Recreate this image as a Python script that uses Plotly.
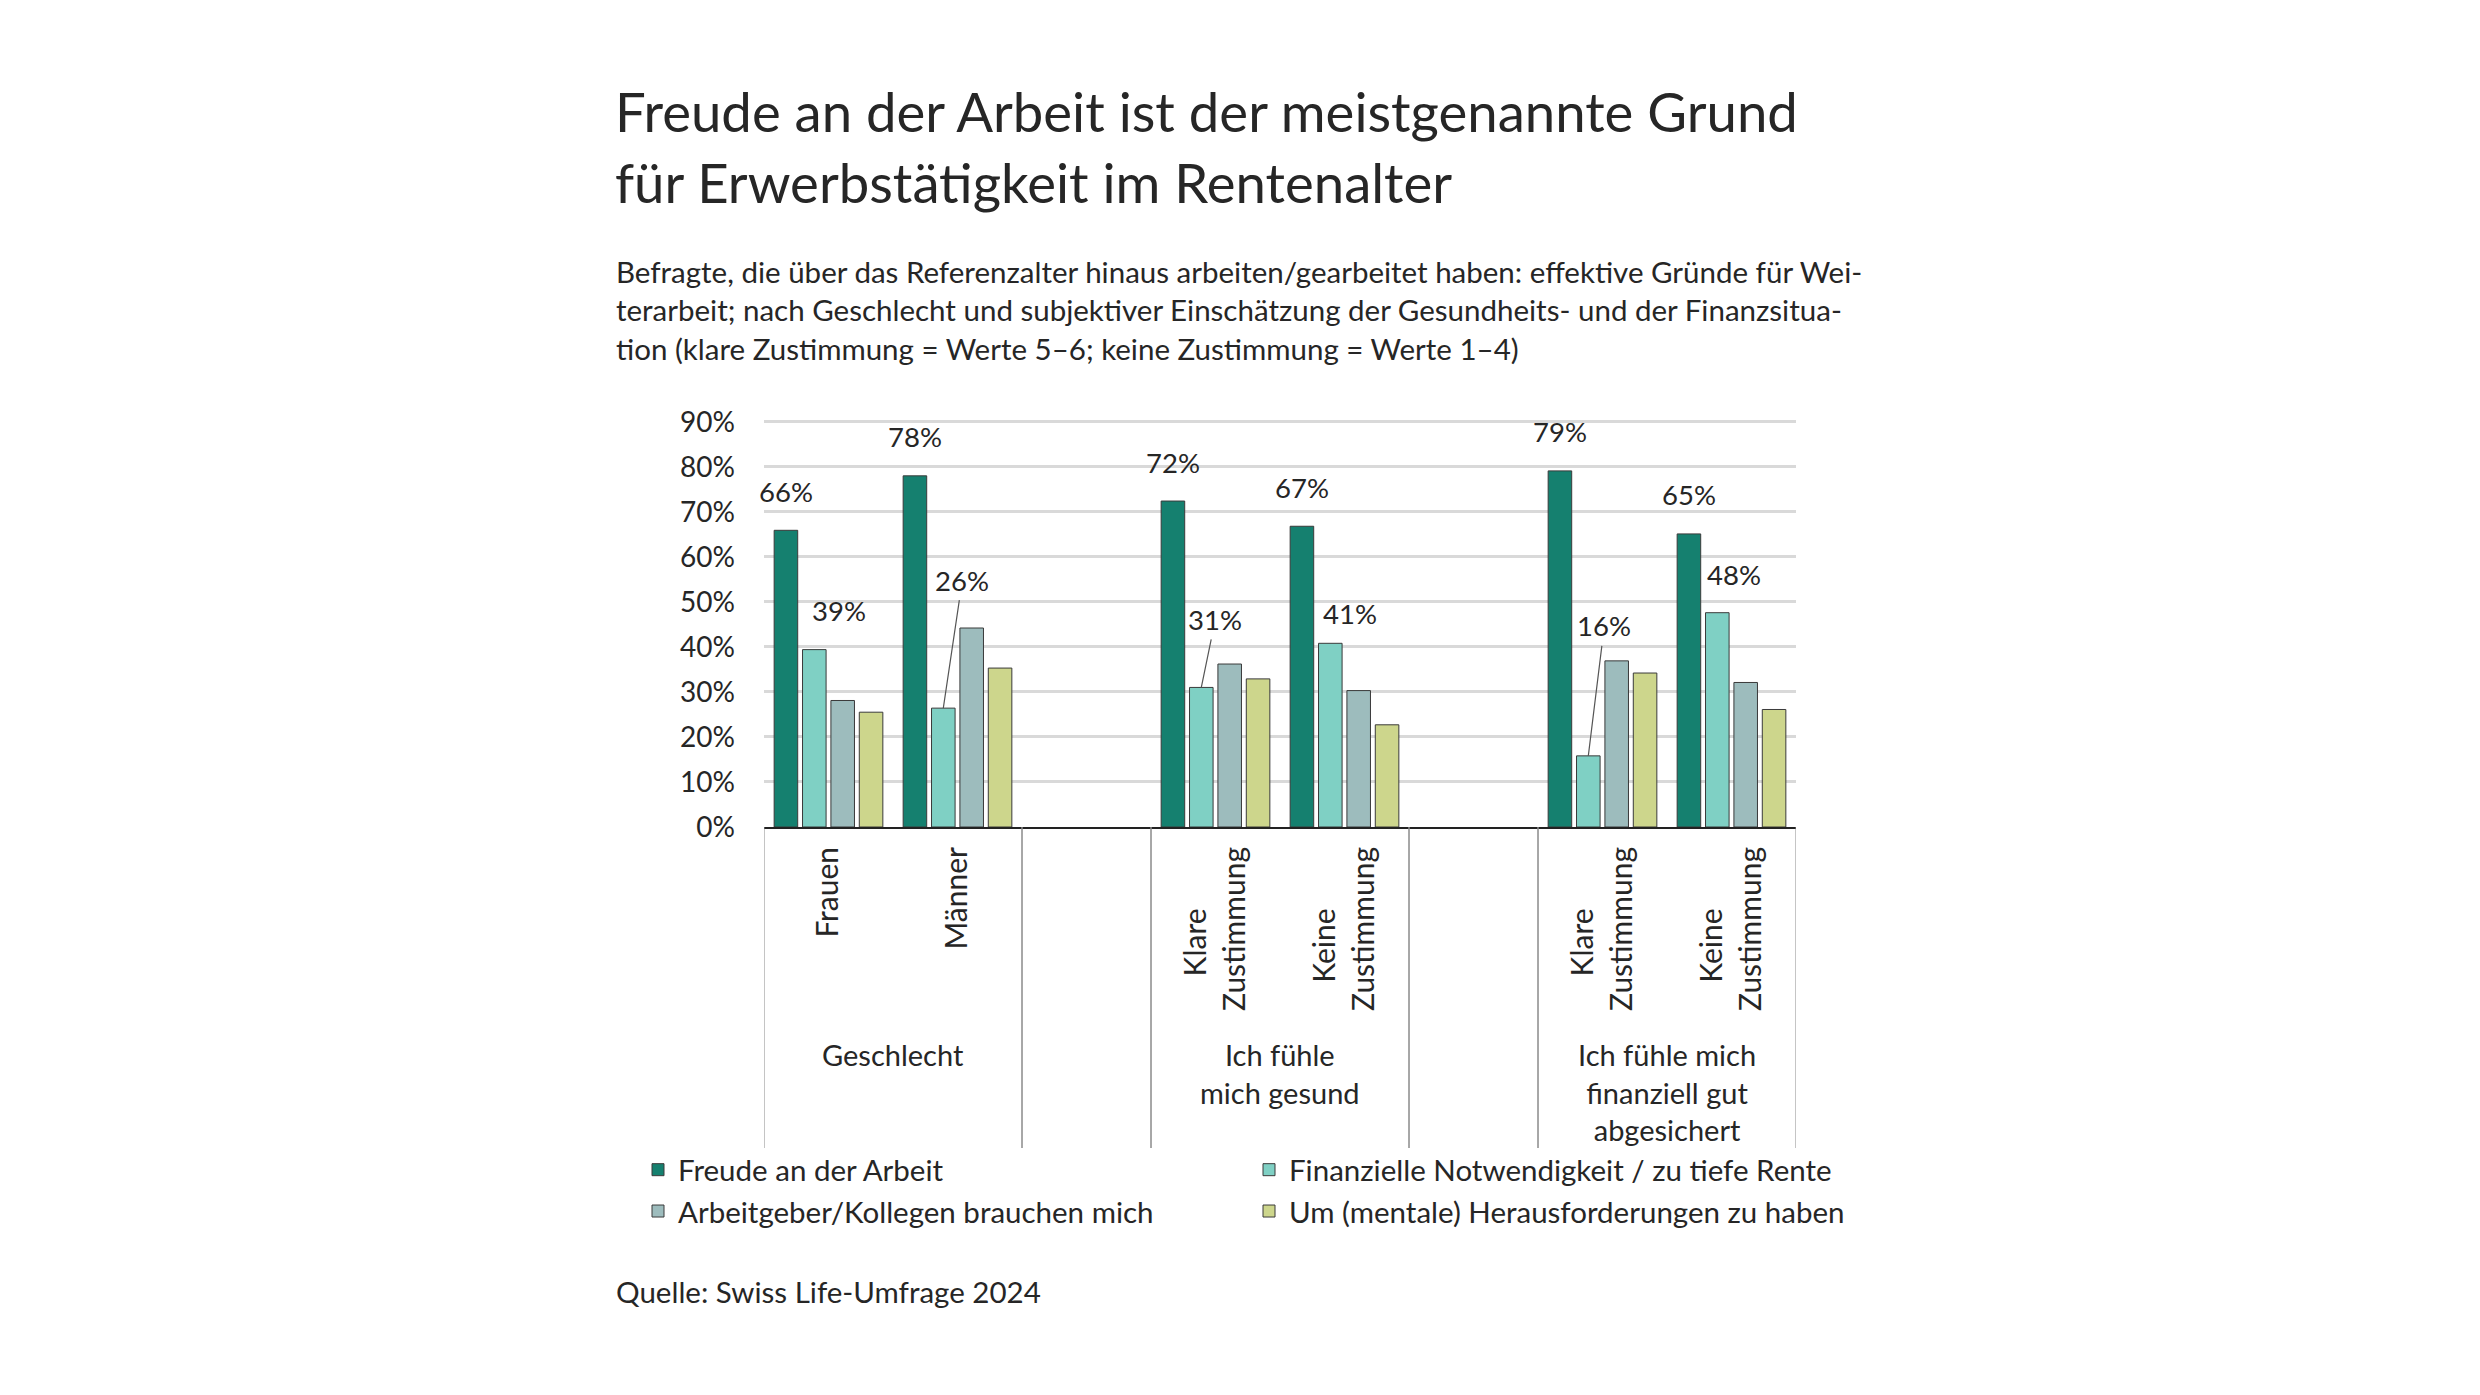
import plotly.graph_objects as go

# Daten (in %)
kategorien = ["Frauen", "Männer", "Lücke 1", "Gesund klar", "Gesund keine",
              "Lücke 2", "Finanziell klar", "Finanziell keine"]
NB = "\u00a0" * 8  # zentriert die kurze Zeile unter "Zustimmung"
tick_labels = ["Frauen", "Männer", "", "Klare" + NB + "<br>Zustimmung", "Keine" + NB + "<br>Zustimmung",
               "", "Klare" + NB + "<br>Zustimmung", "Keine" + NB + "<br>Zustimmung"]
gruppen = [
    ("Geschlecht", ["Frauen", "Männer"]),
    ("", ["Lücke 1"]),
    ("Ich fühle<br>mich gesund", ["Gesund klar", "Gesund keine"]),
    ("", ["Lücke 2"]),
    ("Ich fühle mich<br>finanziell gut<br>abgesichert", ["Finanziell klar", "Finanziell keine"]),
]
freude = [65.9, 78.0, None, 72.4, 66.8, None, 79.1, 65.1]
finanziell = [39.4, 26.4, None, 31.0, 40.8, None, 15.8, 47.6]
arbeitgeber = [28.1, 44.2, None, 36.2, 30.3, None, 36.9, 32.1]
herausforderung = [25.5, 35.3, None, 32.9, 22.7, None, 34.2, 26.1]

namen = [
    "Freude an der Arbeit",
    "Finanzielle Notwendigkeit / zu tiefe Rente",
    "Arbeitgeber/Kollegen brauchen mich",
    "Um (mentale) Herausforderungen zu haben",
]
farben = ["#15806f", "#7fd0c4", "#9dbcbd", "#cdd68c"]
legenden = ["legend", "legend2", "legend", "legend2"]

# Layout-Geometrie (Pixel im 2480x1395-Bild)
W, H = 2480, 1395
L, R, T, B = 756, 1788, 412, 819
FONT = "Lato"
TEXT = "#262626"
BARGAP = 0.12
BARGROUPGAP = 0.17

# Versatz der Beschriftungen der hellen Balken (dx, dy in px, Linie ja/nein)
label_versatz = {0: (25, -39, False), 1: (19, -128, True), 3: (14, -68, True),
                 4: (20, -30, False), 6: (16, -130, True), 7: (17, -38, False)}


def px_x(x):
    return (x - L) / (R - L)


def px_y(y):
    return (B - y) / (B - T)


def bar_offset(k, n=4):
    return (k - (n - 1) / 2) * (1 - BARGAP) / n


fig = go.Figure()
for name, werte, farbe, leg in zip(namen, [freude, finanziell, arbeitgeber, herausforderung], farben, legenden):
    fig.add_trace(go.Bar(
        x=kategorien,
        y=werte,
        name=name,
        legend=leg,
        marker=dict(color=farbe, line=dict(color="#3a3a3a", width=1)),
        hoverinfo="skip",
    ))

annotations = []
shapes = []
# Werte "Freude an der Arbeit"
for i, v in enumerate(freude):
    if v is None:
        continue
    annotations.append(dict(
        x=i + bar_offset(0), y=v, xref="x", yref="y", text=f"{round(v)}%",
        showarrow=False, yshift=39, xshift=0,
        font=dict(family=FONT, size=27.5, color=TEXT),
    ))
# Werte "Finanzielle Notwendigkeit"
for i, v in enumerate(finanziell):
    if v is None:
        continue
    dx, dy, linie = label_versatz[i]
    if linie:
        annotations.append(dict(
            x=i + bar_offset(1), y=v, xref="x", yref="y", text=f"{round(v)}%",
            showarrow=True, ax=dx, ay=dy, arrowhead=0, arrowwidth=1.2,
            arrowcolor="#555555", standoff=0, startstandoff=2,
            font=dict(family=FONT, size=27.5, color=TEXT),
        ))
    else:
        annotations.append(dict(
            x=i + bar_offset(1), y=v, xref="x", yref="y", text=f"{round(v)}%",
            showarrow=False, xshift=dx, yshift=-dy,
            font=dict(family=FONT, size=27.5, color=TEXT),
        ))

# Gruppenbeschriftungen und Trennlinien unter der x-Achse
for titel, mitglieder in gruppen:
    idx = [kategorien.index(m) for m in mitglieder]
    start, ende = min(idx) - 0.5, max(idx) + 0.5
    if titel:
        annotations.append(dict(
            x=(start + ende) / 2, y=px_y(1027), xref="x", yref="paper",
            xanchor="center", yanchor="top", showarrow=False, text=titel,
            font=dict(family=FONT, size=29, color=TEXT),
        ))
    for grenze in (start, ende):
        shapes.append(dict(
            type="line", xref="x", yref="paper", x0=grenze, x1=grenze,
            y0=0, y1=px_y(1140), line=dict(color="#8a8a8a", width=1),
        ))

annotations.append(dict(
    xref="paper", yref="paper", x=px_x(606), y=px_y(244), xanchor="left", yanchor="top",
    align="left", showarrow=False,
    text=("Befragte, die über das Referenzalter hinaus arbeiten/gearbeitet haben: effektive Gründe für Wei-<br>"
          "terarbeit; nach Geschlecht und subjektiver Einschätzung der Gesundheits- und der Finanzsitua-<br>"
          "tion (klare Zustimmung = Werte 5–6; keine Zustimmung = Werte 1–4)"),
    font=dict(family=FONT, size=29.5, color=TEXT),
))
annotations.append(dict(
    xref="paper", yref="paper", x=px_x(606), y=px_y(1283), xanchor="left", yanchor="middle",
    showarrow=False, text="Quelle: Swiss Life-Umfrage 2024",
    font=dict(family=FONT, size=29.5, color=TEXT),
))

fig.update_layout(
    width=W, height=H,
    margin=dict(l=L, r=W - R, t=T, b=H - B, autoexpand=False),
    paper_bgcolor="white", plot_bgcolor="white",
    barmode="group", bargap=BARGAP, bargroupgap=BARGROUPGAP,
    title=dict(
        text="Freude an der Arbeit ist der meistgenannte Grund<br>für Erwerbstätigkeit im Rentenalter",
        xref="container", yref="container", x=607 / W, y=1 - 124 / H,
        xanchor="left", yanchor="top",
        font=dict(family=FONT, size=54.5, color=TEXT),
    ),
    font=dict(family=FONT, color=TEXT),
    annotations=annotations,
    shapes=shapes,
    legend=dict(
        xref="paper", yref="paper", x=px_x(630), y=px_y(1136),
        xanchor="left", yanchor="top", orientation="v",
        font=dict(family=FONT, size=29.5, color=TEXT), bgcolor="rgba(0,0,0,0)",
        tracegroupgap=0,
    ),
    legend2=dict(
        xref="paper", yref="paper", x=px_x(1241), y=px_y(1136),
        xanchor="left", yanchor="top", orientation="v",
        font=dict(family=FONT, size=29.5, color=TEXT), bgcolor="rgba(0,0,0,0)",
        tracegroupgap=0,
    ),
)

fig.update_yaxes(
    range=[0, 90.4], tick0=0, dtick=10, ticksuffix="%",
    showgrid=True, gridcolor="#d9d9d9", gridwidth=3,
    zeroline=False, showline=False,
    tickfont=dict(family=FONT, size=28, color=TEXT),
    ticklabelstandoff=28,
)
fig.update_xaxes(
    type="category", categoryorder="array", categoryarray=kategorien,
    tickvals=kategorien, ticktext=tick_labels,
    range=[-0.5, len(kategorien) - 0.5],
    showline=True, linecolor="#222222", linewidth=2,
    tickangle=-90, ticklabelstandoff=6,
    tickfont=dict(family=FONT, size=30, color=TEXT),
)

fig.write_html("out.html")
